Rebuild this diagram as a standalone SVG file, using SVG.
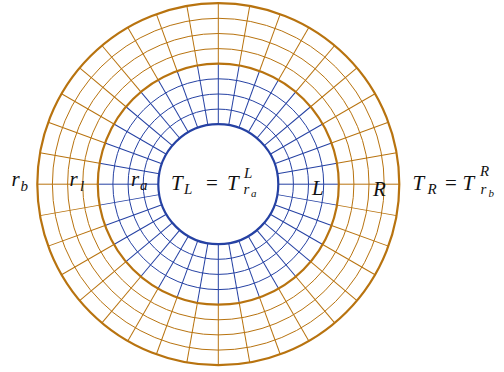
<svg xmlns="http://www.w3.org/2000/svg" xmlns:xlink="http://www.w3.org/1999/xlink" width="504" height="372" viewBox="0 0 504 372">
<style>
.o{stroke:#B8730F;fill:none}
.b{stroke:#2541A3;fill:none}
.thin{stroke-width:1}
.thick{stroke-width:2.2}
.m{font-family:"Liberation Serif","DejaVu Serif",serif;font-style:italic;font-size:21px;fill:#111}
.s{font-size:15px}
.ss{font-size:11px}
.up{font-style:normal}
</style>
<defs>
<g id="spoke">
<line class="b thin" x1="60" y1="0" x2="120.5" y2="0"/>
<line class="b thin" x1="-60" y1="0" x2="-120.5" y2="0"/>
<line class="o thin" x1="120.5" y1="0" x2="181" y2="0"/>
<line class="o thin" x1="-120.5" y1="0" x2="-181" y2="0"/>
</g>
</defs>
<rect width="504" height="372" fill="#fff"/>
<g id="grid" transform="translate(218.3,184.2)">
<g id="spokes">
<use xlink:href="#spoke"/>
<use xlink:href="#spoke" transform="rotate(10)"/>
<use xlink:href="#spoke" transform="rotate(20)"/>
<use xlink:href="#spoke" transform="rotate(30)"/>
<use xlink:href="#spoke" transform="rotate(40)"/>
<use xlink:href="#spoke" transform="rotate(50)"/>
<use xlink:href="#spoke" transform="rotate(60)"/>
<use xlink:href="#spoke" transform="rotate(70)"/>
<use xlink:href="#spoke" transform="rotate(80)"/>
<use xlink:href="#spoke" transform="rotate(90)"/>
<use xlink:href="#spoke" transform="rotate(100)"/>
<use xlink:href="#spoke" transform="rotate(110)"/>
<use xlink:href="#spoke" transform="rotate(120)"/>
<use xlink:href="#spoke" transform="rotate(130)"/>
<use xlink:href="#spoke" transform="rotate(140)"/>
<use xlink:href="#spoke" transform="rotate(150)"/>
<use xlink:href="#spoke" transform="rotate(160)"/>
<use xlink:href="#spoke" transform="rotate(170)"/>
</g>
<g id="inner-region">
<circle class="b thin" r="75.1"/>
<circle class="b thin" r="90.2"/>
<circle class="b thin" r="105.4"/>
<circle class="b thick" r="60"/>
</g>
<g id="outer-region">
<circle class="o thin" r="135.6"/>
<circle class="o thin" r="150.7"/>
<circle class="o thin" r="165.9"/>
<circle class="o thick" r="120.5"/>
<circle class="o thick" r="181"/>
</g>
</g>
<g id="labels">
<text class="m"><tspan x="11.5" y="186">r</tspan><tspan class="s" x="20.5" y="190.5">b</tspan></text>
<text class="m"><tspan x="69.5" y="186">r</tspan><tspan class="s" x="80" y="190.5">l</tspan></text>
<text class="m"><tspan x="131" y="186">r</tspan><tspan class="s" x="140" y="190">a</tspan></text>
<text class="m"><tspan x="171" y="189.5">T</tspan><tspan class="s" x="184" y="193.5">L</tspan><tspan class="up" x="206" y="189.5">=</tspan><tspan x="227" y="189.5">T</tspan><tspan class="s" x="244" y="178">L</tspan><tspan class="s" x="243.5" y="193.5">r</tspan><tspan class="ss" x="251" y="196.5">a</tspan></text>
<text class="m"><tspan x="312" y="195">L</tspan></text>
<text class="m"><tspan x="373" y="196">R</tspan></text>
<text class="m"><tspan x="412.5" y="190">T</tspan><tspan class="s" x="427.5" y="193.5">R</tspan><tspan class="up" x="445" y="190">=</tspan><tspan x="462.5" y="190">T</tspan><tspan class="s" x="480" y="175.5">R</tspan><tspan class="s" x="480.5" y="193.5">r</tspan><tspan class="ss" x="488.5" y="197">b</tspan></text>
</g>
</svg>
